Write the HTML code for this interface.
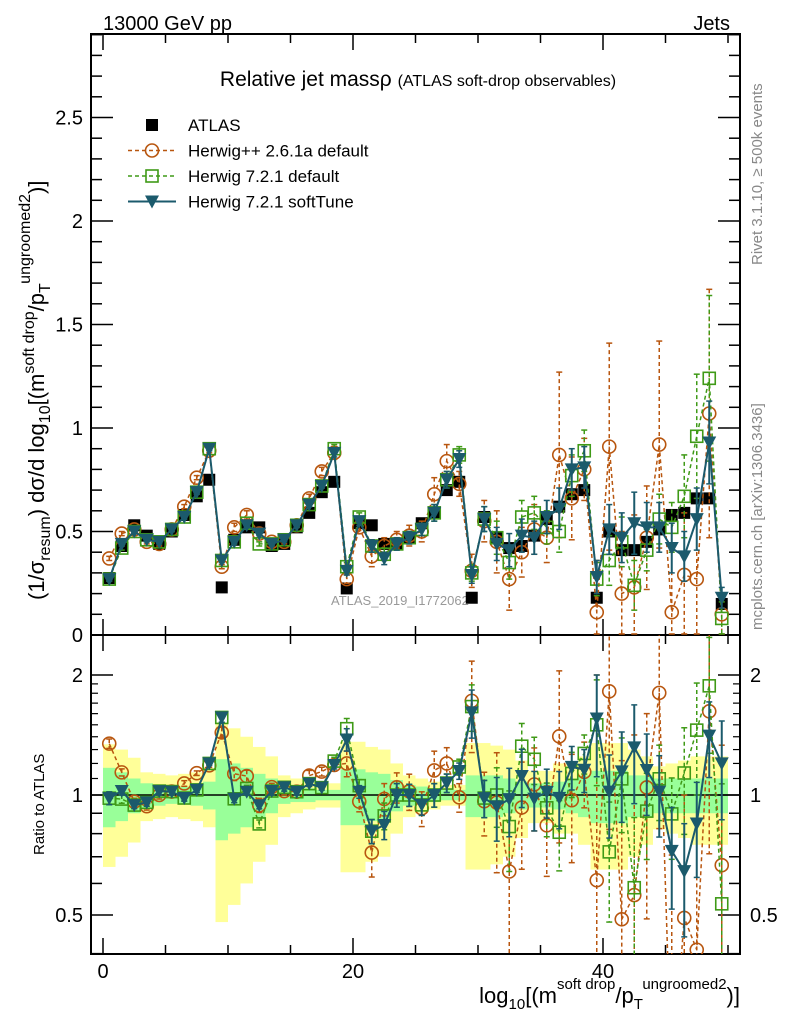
<!DOCTYPE html>
<html><head><meta charset="utf-8"><style>
html,body{margin:0;padding:0;background:#fff;overflow:hidden;width:786px;height:1024px;}
svg{display:block;font-family:"Liberation Sans",sans-serif;}
</style></head><body>
<svg id="chart" width="786" height="1024" viewBox="0 0 786 1024" xmlns="http://www.w3.org/2000/svg">
<defs>
<clipPath id="clipMain"><rect x="91" y="34" width="649" height="601"/></clipPath>
<clipPath id="clipRatio"><rect x="91" y="635" width="649" height="319"/></clipPath>
</defs>
<g id="bands" clip-path="url(#clipRatio)"></g>
<g id="grid"></g>
<text x="103" y="30" font-size="20">13000 GeV pp</text>
<text x="730" y="30" font-size="20" text-anchor="end">Jets</text>
<text x="418" y="86" font-size="21" text-anchor="middle">Relative jet massρ <tspan font-size="16">(ATLAS soft-drop observables)</tspan></text>
<text x="331" y="605" font-size="13" fill="#999">ATLAS_2019_I1772062</text>
<text transform="translate(762,265) rotate(-90)" font-size="15" fill="#888">Rivet 3.1.10, ≥ 500k events</text>
<text transform="translate(762,630) rotate(-90)" font-size="15" fill="#888">mcplots.cern.ch [arXiv:1306.3436]</text>
<text transform="translate(44,600) rotate(-90)" font-size="22">(1/σ<tspan font-size="16" dy="6">resum</tspan><tspan dy="-6">) dσ/d log</tspan><tspan font-size="16" dy="6">10</tspan><tspan dy="-6">[(m</tspan><tspan font-size="16" dy="-10">soft drop</tspan><tspan dy="10">/p</tspan><tspan font-size="16" dy="6">T</tspan><tspan font-size="16" dy="-20">ungroomed</tspan><tspan font-size="16" dy="0">2</tspan><tspan dy="14">)]</tspan></text>
<text transform="translate(44,855) rotate(-90)" font-size="15">Ratio to ATLAS</text>
<text x="740" y="1003" font-size="22" text-anchor="end">log<tspan font-size="15" dy="6">10</tspan><tspan dy="-6">[(m</tspan><tspan font-size="15" dy="-14">soft drop</tspan><tspan dy="14">/p</tspan><tspan font-size="15" dy="6">T</tspan><tspan font-size="15" dy="-20">ungroomed</tspan><tspan font-size="15">2</tspan><tspan dy="14">)]</tspan></text>
<g id="mainData" clip-path="url(#clipMain)"></g>
<g id="ratioData" clip-path="url(#clipRatio)"></g>
<g id="legend"></g>
</svg>
<script>
const atlas=[0.275,0.43,0.53,0.48,0.44,0.50,0.58,0.67,0.75,0.23,0.46,0.52,0.52,0.43,0.44,0.52,0.59,0.69,0.74,0.225,0.54,0.53,0.44,0.44,0.47,0.54,0.59,0.70,0.74,0.18,0.57,0.47,0.42,0.43,0.48,0.56,0.62,0.68,0.70,0.18,0.50,0.41,0.41,0.45,0.51,0.58,0.59,0.66,0.66,0.15];
const herwigpp=[0.37,0.49,0.51,0.45,0.44,0.51,0.62,0.76,0.89,0.33,0.52,0.58,0.49,0.45,0.45,0.53,0.66,0.79,0.88,0.27,0.52,0.38,0.43,0.46,0.48,0.50,0.68,0.84,0.73,0.31,0.55,0.45,0.27,0.40,0.51,0.47,0.87,0.66,0.80,0.11,0.91,0.20,0.23,0.47,0.92,0.11,0.29,0.27,1.07,0.10];
const herwig721=[0.27,0.42,0.50,0.46,0.45,0.51,0.57,0.69,0.90,0.36,0.45,0.54,0.44,0.44,0.46,0.53,0.63,0.72,0.90,0.33,0.57,0.43,0.39,0.44,0.47,0.51,0.59,0.75,0.87,0.30,0.56,0.47,0.35,0.57,0.59,0.52,0.50,0.77,0.89,0.27,0.36,0.45,0.24,0.41,0.56,0.52,0.67,0.96,1.24,0.08];
const softTune=[0.27,0.44,0.50,0.46,0.45,0.51,0.57,0.69,0.90,0.36,0.45,0.53,0.49,0.44,0.46,0.53,0.63,0.72,0.88,0.31,0.55,0.43,0.37,0.44,0.47,0.51,0.59,0.75,0.85,0.29,0.56,0.44,0.41,0.48,0.47,0.57,0.61,0.80,0.81,0.28,0.51,0.47,0.54,0.52,0.52,0.42,0.38,0.56,0.93,0.18];
const herwigppErr=[0.01,0.01,0.01,0.01,0.01,0.01,0.01,0.01,0.01,0.01,0.02,0.02,0.02,0.01,0.01,0.01,0.02,0.02,0.03,0.02,0.03,0.05,0.04,0.04,0.05,0.05,0.08,0.08,0.06,0.08,0.10,0.15,0.15,0.12,0.12,0.12,0.40,0.20,0.15,0.25,0.50,0.30,0.35,0.25,0.50,0.30,0.30,0.30,0.60,0.10];
const herwig721Err=[0.01,0.01,0.01,0.01,0.01,0.01,0.01,0.01,0.01,0.01,0.01,0.01,0.01,0.01,0.01,0.01,0.01,0.01,0.02,0.02,0.02,0.03,0.03,0.03,0.03,0.03,0.04,0.04,0.04,0.04,0.06,0.08,0.08,0.08,0.08,0.08,0.10,0.10,0.10,0.08,0.12,0.12,0.12,0.10,0.12,0.12,0.20,0.30,0.40,0.08];
const softTuneErr=[0.01,0.01,0.01,0.01,0.01,0.01,0.01,0.01,0.01,0.01,0.01,0.01,0.01,0.01,0.01,0.01,0.01,0.01,0.02,0.02,0.02,0.03,0.03,0.03,0.03,0.03,0.04,0.04,0.04,0.04,0.06,0.08,0.08,0.08,0.08,0.08,0.10,0.10,0.10,0.08,0.12,0.12,0.15,0.12,0.12,0.12,0.12,0.15,0.20,0.05];
const totUnc=[0.34,0.30,0.24,0.14,0.13,0.12,0.13,0.14,0.17,0.52,0.47,0.40,0.32,0.25,0.12,0.10,0.08,0.07,0.07,0.36,0.36,0.32,0.30,0.20,0.12,0.10,0.08,0.06,0.06,0.35,0.35,0.33,0.30,0.22,0.15,0.15,0.20,0.20,0.25,0.35,0.35,0.35,0.30,0.25,0.18,0.20,0.22,0.25,0.25,0.25];
const statUnc=[0.17,0.14,0.10,0.07,0.06,0.05,0.05,0.06,0.08,0.23,0.20,0.17,0.13,0.10,0.05,0.04,0.04,0.03,0.03,0.16,0.16,0.14,0.13,0.09,0.06,0.05,0.04,0.03,0.03,0.12,0.12,0.12,0.10,0.08,0.07,0.07,0.08,0.10,0.12,0.15,0.15,0.15,0.12,0.12,0.10,0.10,0.10,0.10,0.10,0.10];
const xTicks=[0,20,40];
const yTicksMain=[0,0.5,1,1.5,2,2.5];
const yTicksRatio=[0.5,1,2];

const NS="http://www.w3.org/2000/svg";
const X=v=>103+v*12.5;
const YM=v=>635-v*207;
const YR=v=>795-120*Math.log2(Math.max(v,0.01));
function mk(tag,attrs,parent){const e=document.createElementNS(NS,tag);for(const k in attrs)e.setAttribute(k,attrs[k]);parent.appendChild(e);return e;}
const svg=document.getElementById('chart');
const grid=document.getElementById('grid');
const bands=document.getElementById('bands');
const mainG=document.getElementById('mainData');
const ratioG=document.getElementById('ratioData');

totUnc.forEach((u,i)=>{const r=mk('rect',{x:X(i),y:YR(1+u),width:12.5,height:YR(1-u)-YR(1+u),fill:'#ffff99'},bands);

});
statUnc.forEach((u,i)=>{const r=mk('rect',{x:X(i),y:YR(1+u),width:12.5,height:YR(1-u)-YR(1+u),fill:'#99ff99'},bands);

});

[[34,635],[635,954]].forEach(([t,b],k)=>{const f=mk('rect',{x:91,y:t,width:649,height:b-t,fill:'none',stroke:'#000','stroke-width':2},grid);

});
const one=mk('line',{x1:91,x2:740,y1:YR(1),y2:YR(1),stroke:'#000','stroke-width':1.5},grid);



for(let v=0;v<=50;v+=5){const maj=xTicks.includes(v);const L=maj?16:9;
[[34,1],[635,-1],[635,1],[954,-1]].forEach(([y,d])=>{mk('line',{x1:X(v),x2:X(v),y1:y,y2:y+d*L,stroke:'#000','stroke-width':1.5},grid);});}
xTicks.forEach(v=>{const t=mk('text',{x:X(v),y:978,'font-size':20,'text-anchor':'middle'},svg);t.textContent=v;

});
for(let k=0;k<=29;k++){const v=k/10;const maj=k%5==0;const L=maj?22:11;const y=YM(v);
mk('line',{x1:91,x2:91+L,y1:y,y2:y,stroke:'#000','stroke-width':1.5},grid);
mk('line',{x1:740,x2:740-L,y1:y,y2:y,stroke:'#000','stroke-width':1.5},grid);}
yTicksMain.forEach(v=>{const t=mk('text',{x:83,y:YM(v)+7,'font-size':20,'text-anchor':'end'},svg);t.textContent=v;

});
const minorR=[0.4,0.5,0.6,0.7,0.8,0.9,1,2];
minorR.forEach(v=>{const maj=yTicksRatio.includes(v);const L=maj?22:11;const y=YR(v);
mk('line',{x1:91,x2:91+L,y1:y,y2:y,stroke:'#000','stroke-width':1.5},grid);
mk('line',{x1:740,x2:740-L,y1:y,y2:y,stroke:'#000','stroke-width':1.5},grid);});
[1.1,1.2,1.3,1.4,1.5,1.6,1.7,1.8,1.9].forEach(v=>{const y=YR(v);
mk('line',{x1:91,x2:98,y1:y,y2:y,stroke:'#000','stroke-width':1.2},grid);
mk('line',{x1:740,x2:733,y1:y,y2:y,stroke:'#000','stroke-width':1.2},grid);});
yTicksRatio.forEach(v=>{[[83,'end'],[750,'start']].forEach(([x,a])=>{const t=mk('text',{x:x,y:YR(v)+7,'font-size':20,'text-anchor':a},svg);t.textContent=v;

});});

const series=[
 {name:'herwigpp-2.6.1a',vals:herwigpp,err:herwigppErr,col:'#b8560f',dash:'4,3',m:'circle',w:1.5},
 {name:'herwig-7.2.1-default',vals:herwig721,err:herwig721Err,col:'#3f9a17',dash:'4,3',m:'square',w:1.5},
 {name:'herwig-7.2.1-softtune',vals:softTune,err:softTuneErr,col:'#1b5a6c',dash:'',m:'tri',w:2}
];
function marker(g,type,x,y,col){
 if(type==='circle')return mk('circle',{cx:x,cy:y,r:6.5,fill:'none',stroke:col,'stroke-width':1.6},g);
 if(type==='square')return mk('rect',{x:x-6,y:y-6,width:12,height:12,fill:'none',stroke:col,'stroke-width':1.6},g);
 if(type==='tri')return mk('path',{d:`M${x-7},${y-6} L${x+7},${y-6} L${x},${y+7} Z`,fill:col},g);
 if(type==='box')return mk('rect',{x:x-6,y:y-6,width:12,height:12,fill:'#000'},g);
}
function drawSeries(g,s,Yf,valf,errf){
 const grp=mk('g',{},g);
 
 
 const pts=s.vals.map((v,i)=>[X(i+0.5),Yf(valf(i))]);
 s.vals.forEach((v,i)=>{const x=X(i+0.5);const e=errf(i);const y1=Yf(valf(i)+e),y2=Yf(Math.max(valf(i)-e,0.005));
  mk('line',{x1:x,x2:x,y1:y1,y2:y2,stroke:s.col,'stroke-width':s.w,'stroke-dasharray':s.dash},grp);
  mk('line',{x1:x-3,x2:x+3,y1:y1,y2:y1,stroke:s.col,'stroke-width':1.5},grp);
  mk('line',{x1:x-3,x2:x+3,y1:y2,y2:y2,stroke:s.col,'stroke-width':1.5},grp);});
 mk('polyline',{points:pts.map(p=>p.join(',')).join(' '),fill:'none',stroke:s.col,'stroke-width':s.w,'stroke-dasharray':s.dash},grp);
 pts.forEach(p=>{const m=marker(grp,s.m,p[0],p[1],s.col);
  
  });
}
const ag=mk('g',{},mainG);


atlas.forEach((v,i)=>{const m=marker(ag,'box',X(i+0.5),YM(v));
 
 });
series.forEach(s=>{
 drawSeries(mainG,s,YM,i=>s.vals[i],i=>s.err[i]);
 drawSeries(ratioG,s,YR,i=>s.vals[i]/atlas[i],i=>s.err[i]/atlas[i]);
});

const lg=document.getElementById('legend');
const entries=[['ATLAS','box','#000',''],['Herwig++ 2.6.1a default','circle','#b8560f','4,3'],['Herwig 7.2.1 default','square','#3f9a17','4,3'],['Herwig 7.2.1 softTune','tri','#1b5a6c','']];
entries.forEach((e,k)=>{const y=125+k*25.5;const g=mk('g',{},lg);
 
 
 if(k>0)mk('line',{x1:128,x2:176,y1:y,y2:y,stroke:e[2],'stroke-width':e[3]?1.5:2,'stroke-dasharray':e[3]},g);
 marker(g,e[1],152,y,e[2]);
 const t=mk('text',{x:188,y:y+6,'font-size':17},g);t.textContent=e[0];});
</script>
</body></html>
